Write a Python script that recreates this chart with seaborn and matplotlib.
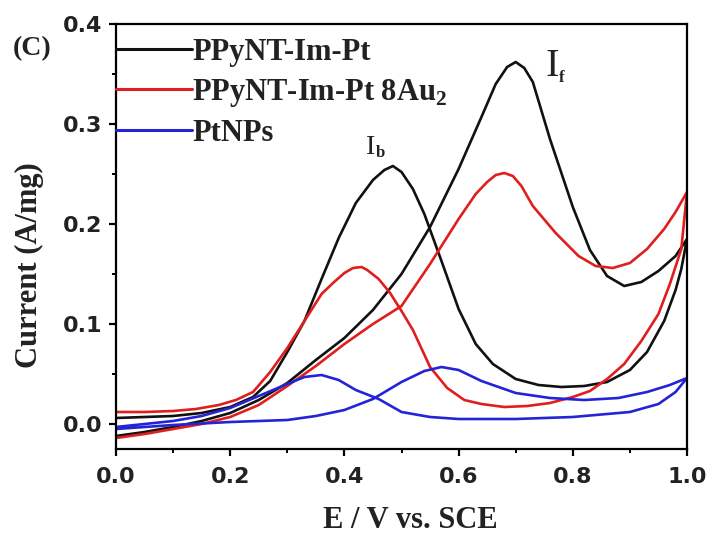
import numpy as np
import pandas as pd
import matplotlib
matplotlib.use("Agg")
import matplotlib.pyplot as plt
import seaborn as sns
from matplotlib.ticker import MultipleLocator

# ---------------- data ----------------
series_names = ["PPyNT-Im-Pt", "PPyNT-Im-Pt 8Au$_{\\mathbf{2}}$", "PtNPs"]
series_colors = ["#111111", "#e01e1e", "#2424d6"]

# PPyNT-Im-Pt : forward scan (0 -> 1 V) then backward scan (1 -> 0 V)
black_fwd_E = [0.0, 0.05, 0.1, 0.15, 0.2, 0.25, 0.3, 0.35, 0.4, 0.45, 0.5, 0.55, 0.6, 0.64,
               0.665, 0.685, 0.70, 0.715, 0.73, 0.76, 0.8, 0.83, 0.86, 0.89, 0.92, 0.95,
               0.98, 1.0]
black_fwd_I = [-0.012, -0.008, -0.003, 0.003, 0.011, 0.024, 0.041, 0.064, 0.086, 0.114, 0.15,
               0.197, 0.255, 0.307, 0.34, 0.357, 0.362, 0.356, 0.342, 0.285, 0.217, 0.174,
               0.148, 0.138, 0.142, 0.153, 0.168, 0.185]
black_bwd_E = [1.0, 0.99, 0.98, 0.96, 0.93, 0.9, 0.86, 0.82, 0.78, 0.74, 0.7, 0.66, 0.63, 0.6,
               0.57, 0.54, 0.52, 0.50, 0.485, 0.47, 0.45, 0.42, 0.39, 0.36, 0.33, 0.3, 0.27,
               0.24, 0.2, 0.15, 0.1, 0.05, 0.0]
black_bwd_I = [0.185, 0.155, 0.134, 0.103, 0.072, 0.054, 0.042, 0.038, 0.037, 0.039, 0.045,
               0.06, 0.08, 0.115, 0.163, 0.21, 0.235, 0.252, 0.258, 0.254, 0.244, 0.221,
               0.186, 0.145, 0.103, 0.072, 0.043, 0.027, 0.017, 0.011, 0.008, 0.007, 0.006]

# PPyNT-Im-Pt 8Au2
red_fwd_E = [0.0, 0.05, 0.1, 0.15, 0.2, 0.25, 0.3, 0.35, 0.4, 0.45, 0.5, 0.55, 0.6, 0.63,
             0.65, 0.665, 0.68, 0.695, 0.71, 0.73, 0.77, 0.81, 0.84, 0.87, 0.9, 0.93, 0.96,
             0.98, 1.0]
red_fwd_I = [-0.014, -0.01, -0.005, 0.0, 0.007, 0.019, 0.038, 0.058, 0.08, 0.1, 0.118, 0.16,
             0.205, 0.23, 0.242, 0.249, 0.251, 0.248, 0.238, 0.218, 0.191, 0.168, 0.158,
             0.156, 0.161, 0.175, 0.195, 0.212, 0.232]
red_bwd_E = [1.0, 0.99, 0.97, 0.95, 0.92, 0.89, 0.86, 0.83, 0.8, 0.76, 0.72, 0.68, 0.64,
             0.61, 0.58, 0.55, 0.52, 0.5, 0.48, 0.46, 0.44, 0.43, 0.415, 0.4, 0.38, 0.36,
             0.34, 0.32, 0.3, 0.27, 0.24, 0.21, 0.18, 0.14, 0.1, 0.05, 0.0]
red_bwd_I = [0.232, 0.175, 0.14, 0.11, 0.083, 0.06, 0.045, 0.033, 0.027, 0.021, 0.018, 0.017,
             0.02, 0.024, 0.036, 0.057, 0.094, 0.113, 0.131, 0.145, 0.154, 0.157, 0.156,
             0.151, 0.141, 0.13, 0.112, 0.094, 0.076, 0.052, 0.032, 0.024, 0.019, 0.015,
             0.013, 0.012, 0.012]

# PtNPs
blue_fwd_E = [0.0, 0.1, 0.2, 0.3, 0.35, 0.4, 0.45, 0.5, 0.54, 0.57, 0.6, 0.64, 0.7, 0.76,
              0.82, 0.88, 0.93, 0.97, 1.0]
blue_fwd_I = [-0.005, -0.001, 0.002, 0.004, 0.008, 0.014, 0.025, 0.042, 0.053, 0.057, 0.054,
              0.043, 0.031, 0.026, 0.024, 0.026, 0.032, 0.039, 0.046]
blue_bwd_E = [1.0, 0.98, 0.95, 0.9, 0.8, 0.7, 0.6, 0.55, 0.5, 0.46, 0.42, 0.39, 0.36, 0.33,
              0.3, 0.25, 0.2, 0.15, 0.1, 0.05, 0.0]
blue_bwd_I = [0.046, 0.032, 0.02, 0.012, 0.007, 0.005, 0.005, 0.007, 0.012, 0.025, 0.034,
              0.044, 0.049, 0.047, 0.04, 0.028, 0.016, 0.008, 0.003, 0.0, -0.003]

x_ticks = [0.0, 0.2, 0.4, 0.6, 0.8, 1.0]
y_ticks = [0.0, 0.1, 0.2, 0.3, 0.4]

# ---------------- build long table ----------------
loops = [
    (black_fwd_E + black_bwd_E, black_fwd_I + black_bwd_I),
    (red_fwd_E + red_bwd_E, red_fwd_I + red_bwd_I),
    (blue_fwd_E + blue_bwd_E, blue_fwd_I + blue_bwd_I),
]
frames = []
for name, (E, I) in zip(series_names, loops):
    frames.append(pd.DataFrame({"E": E, "I": I, "series": name, "step": np.arange(len(E))}))
df = pd.concat(frames, ignore_index=True)

# ---------------- style ----------------
sns.set_theme(style="ticks")
plt.rcParams.update({
    "font.family": ["Liberation Serif", "DejaVu Serif"],
    "mathtext.fontset": "custom",
    "mathtext.rm": "Liberation Serif:bold",
    "mathtext.bf": "Liberation Serif:bold",
    "axes.linewidth": 1.6,
    "axes.edgecolor": "black",
})

fig = plt.figure(figsize=(7.06, 5.44), dpi=100)
ax = fig.add_axes([116 / 706, 1 - 449 / 544, (687 - 116) / 706, (449 - 24) / 544])

sns.lineplot(data=df, x="E", y="I", hue="series", palette=series_colors,
             hue_order=series_names, sort=False, estimator=None, units="series",
             linewidth=1.9, ax=ax)

ax.set_xlim(0, 1.0)
ax.set_ylim(-0.025, 0.4)
ax.set_xticks(x_ticks)
ax.set_yticks(y_ticks)
ax.set_xticklabels([f"{v:.1f}" for v in x_ticks])
ax.set_yticklabels([f"{v:.1f}" for v in y_ticks])
ax.xaxis.set_minor_locator(MultipleLocator(0.1))
ax.yaxis.set_minor_locator(MultipleLocator(0.05))
ax.tick_params(axis="both", which="major", direction="out", length=5, width=1.6,
               color="black", top=False, right=False)
ax.tick_params(axis="both", which="minor", direction="out", length=3, width=1.4,
               color="black", top=False, right=False)
ax.tick_params(axis="x", which="major", pad=8)
ax.tick_params(axis="y", which="major", pad=5)
for lab in ax.get_xticklabels() + ax.get_yticklabels():
    lab.set_fontfamily("DejaVu Sans")
    lab.set_fontweight("bold")
    lab.set_fontsize(16)
    lab.set_color("#222222")

ax.set_xlabel("E / V vs. SCE", fontsize=22, fontweight="bold", color="#222222")
ax.set_ylabel("Current (A/mg)", fontsize=22, fontweight="bold", color="#222222")
ax.xaxis.set_label_coords((410 - 116) / 571, (449 - 506) / 425)
ax.yaxis.set_label_coords((44 - 116) / 571, (449 - 265) / 425)

sns.move_legend(ax, "upper left", bbox_to_anchor=(0.0, 0.968), frameon=False, title=None,
                handlelength=2.5, handletextpad=0.0, labelspacing=0.33, borderpad=0.0,
                borderaxespad=0.0, prop={"family": "Liberation Serif", "weight": "bold",
                                         "size": 22})
leg = ax.get_legend()
for t in leg.get_texts():
    t.set_color("#222222")
for h in leg.get_lines():
    h.set_linewidth(2.2)

# peak annotations
ax.text(0.7636, 0.357, "I", fontsize=29, ha="center", va="center", color="#222222")
ax.text(0.781, 0.346, "f", fontsize=12, fontweight="bold", ha="center", va="center", color="#222222")
ax.text(0.4466, 0.276, "I", fontsize=20, ha="center", va="center", color="#222222")
ax.text(0.4625, 0.271, "b", fontsize=12, fontweight="bold", ha="center", va="center", color="#222222")

fig.text(32 / 706, 1 - 49 / 544, "(C)", fontsize=20, fontweight="bold", ha="center",
         va="center", color="#222222")

fig.savefig("out.png", dpi=100, facecolor="white")
